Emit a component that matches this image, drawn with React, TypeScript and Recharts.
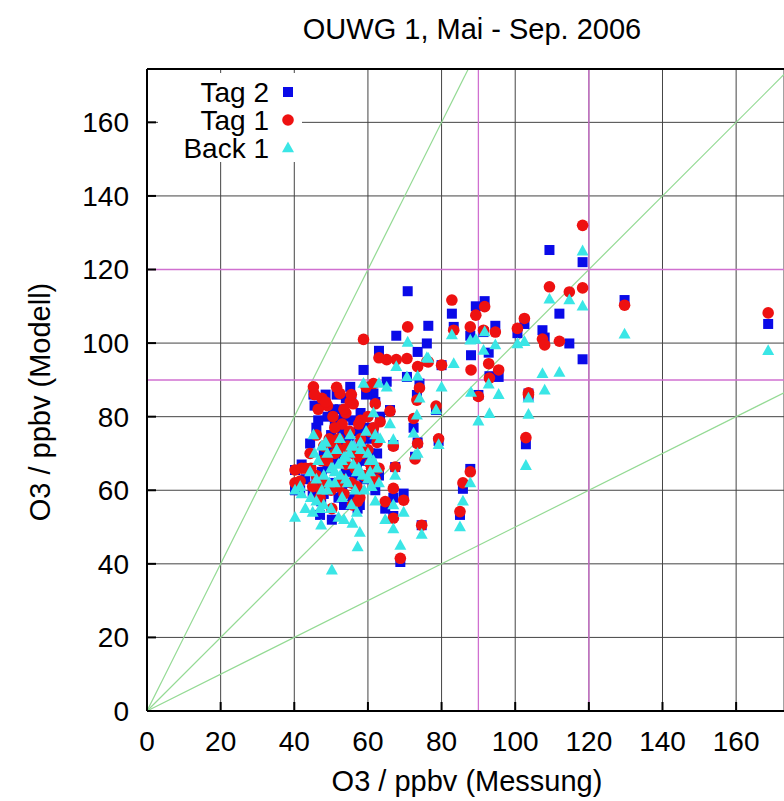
import React from "react";
import { CartesianGrid, ReferenceLine, Scatter, ScatterChart, XAxis, YAxis } from "recharts";

const title = "OUWG 1, Mai - Sep. 2006";
const xLabel = "O3 / ppbv (Messung)";
const yLabel = "O3 / ppbv (Modell)";
const axisTicks = [0, 20, 40, 60, 80, 100, 120, 140, 160];
const thresholds = [90, 120];
const slopes = [2, 1, 0.5];
const X_MAX = 173;
const Y_MAX = 174.5;

// measured O3 per day, and the three model runs for the same days
const messung = [
  118.3, 118.3, 109.3, 114.7, 112, 129.7, 168.7, 107.4, 108, 102.5, 100.6, 103.6, 103.6, 102.9, 91.7, 89.3,
  87.8, 91.4, 94.6, 92.8, 95.5, 88, 90, 93, 87.8, 85.8, 85, 82.8, 83.3, 80, 70.8, 76.4, 67.7, 58.8, 76, 63,
  73.5, 65.1, 70.6, 74, 61.5, 73.3, 78.5, 66, 63.3, 72.4, 79.2, 73.5, 66.9, 72.8, 60.6, 67.4, 66.9, 69.7,
  64.7, 66.9, 74.6, 68.8, 50.2, 57.2, 57.8, 40.2, 47.3, 52, 47, 40.2, 41.6, 44.3, 44.5, 45.2, 47.5, 52.4,
  55.2, 49, 56, 62, 53, 50, 55, 58, 60, 48, 51, 54, 57, 59, 46, 50, 53, 55.5, 61, 63, 49, 56, 52, 58, 54, 46,
  48, 60, 42, 51, 57, 62, 45.5, 46.5, 48.5, 50.5, 51.5, 53.5, 55.5, 57.5, 59.5, 61.5, 52.5, 54.5, 56.5,
  58.5, 47.5, 49.5, 43, 45, 53.5, 55.8, 60.5, 62.5,
];
const tag2 = [
  122, 95.6, 125.3, 99.9, 108, 111.7, 105.2, 103.5, 101.5, 105.2, 102.7, 86.3, 85.5, 72.5, 111.4, 110,
  102, 103, 104.7, 97.4, 90.8, 96.7, 85.9, 91, 65.8, 60.4, 53.3, 108, 104.4, 94, 114.1, 104.7, 102, 92.7,
  99.9, 97.9, 97.6, 89.5, 90.8, 89, 86.3, 85.9, 81.8, 81.8, 80, 77, 73.4, 73, 72.3, 69.1, 70, 66.3, 58,
  59.1, 55, 53, 50.5, 40.5, 52, 55, 56, 60, 57, 58, 53.3, 65.5, 60, 72.7, 66, 86, 84, 82, 88.1, 80, 79, 84,
  76, 75, 73, 72, 77, 70, 68, 65, 66, 63, 62, 62, 60, 62, 67, 64, 66, 70, 72, 81, 85, 77, 59, 69, 67, 79,
  60, 60, 83, 79, 86, 82, 86, 80, 84, 76, 86, 76, 69, 74, 64, 68, 65, 71, 63, 59, 56, 58, 74, 70,
];
const tag1 = [
  132, 115, 115.3, 113.9, 100.5, 110.3, 108.2, 101.1, 99.5, 106.7, 104, 86, 86.5, 74.3, 109.9, 107.6,
  104.4, 103.5, 103, 94.4, 92.7, 92.7, 85.5, 90.5, 65, 62, 54.2, 111.7, 103.5, 94, 104.4, 94.9, 95.5, 101,
  95, 96, 93.6, 95.5, 95.8, 87.8, 89, 84.5, 82.9, 81.5, 78.6, 79.5, 74, 72.7, 72, 68.5, 67.3, 66.3, 60.5,
  57.3, 56.9, 52.4, 50.5, 41.5, 55, 57, 58, 62, 60, 61, 58, 65.5, 62.5, 70, 66, 88.1, 85, 86.3, 84, 83,
  83.5, 83.5, 78, 73, 76, 74, 80, 72, 70, 67, 69, 64, 64, 60, 63, 62, 66, 66, 68, 71, 74, 79, 81, 75, 62,
  71, 66, 77, 61, 63, 86, 82, 84, 80, 88, 82, 86, 78, 88, 77, 71, 72, 66, 70, 68, 74, 66, 61, 59, 56, 76,
  73,
];
const back1 = [
  125, 110, 111.9, 111.7, 92, 102.4, 97.9, 91.7, 87.2, 100.4, 99.8, 85, 80.6, 66.7, 103, 101, 100.8, 98,
  99.5, 88.8, 86, 86.6, 78.8, 80.8, 62, 57, 50, 102.2, 94.4, 88, 100.2, 95.8, 93.6, 89, 96, 89, 91, 88,
  90.8, 85, 81, 80.4, 81.8, 78, 74, 75.5, 72.4, 70, 73.7, 69.5, 65, 64, 56, 54, 52, 49.5, 48, 45, 38.3,
  44.6, 48.5, 52.6, 50.5, 52.6, 55, 60, 61, 65, 58, 75, 72, 74, 75, 70, 72, 75, 68, 66, 70, 71, 70, 64, 62,
  63, 65, 60, 57, 55, 58, 56, 61, 62, 60, 67, 67, 73, 69, 63, 56, 63, 59, 65, 54, 57, 70, 68, 73, 66, 71,
  69, 72, 66, 76, 68, 64, 62, 60, 64, 60, 62, 55, 54, 52, 51, 68, 66,
];

const toPoints = (ys: number[]) => messung.map((x, i) => ({ x, y: ys[i] }));

const FONT = "'Liberation Sans', Arial, Helvetica, sans-serif";
const BLUE = "#0a0ae8";
const RED = "#ee1111";
const CYAN = "#3ae6e6";
const GREEN = "#94da94";
const VIOLET = "#d070d0";

const Square = (p: any) => <rect x={p.cx - 5} y={p.cy - 5} width={10} height={10} fill={BLUE} />;
const Dot = (p: any) => <circle cx={p.cx} cy={p.cy} r={5.8} fill={RED} />;
const Tri = (p: any) => (
  <polygon
    points={`${p.cx},${p.cy - 6.5} ${p.cx + 6},${p.cy + 4.3} ${p.cx - 6},${p.cy + 4.3}`}
    fill={CYAN}
  />
);

const XTick = ({ x, y, payload }: any) => (
  <text x={x} y={y} dy="0.71em" textAnchor="middle" fontSize={28} fontFamily={FONT} fill="#000">
    {payload.value}
  </text>
);

const YTick = ({ x, y, payload }: any) => (
  <text x={x} y={y} dy="0.355em" textAnchor="end" fontSize={28} fontFamily={FONT} fill="#000">
    {payload.value}
  </text>
);

const legendItems = [
  { name: "Tag 2", Shape: Square },
  { name: "Tag 1", Shape: Dot },
  { name: "Back 1", Shape: Tri },
];

function Key() {
  return (
    <g>
      <rect x={158} y={73} width={144} height={89} fill="#fff" />
      {legendItems.map(({ name, Shape }, i) => (
        <g key={name}>
          <text x={269} y={102 + i * 28} textAnchor="end" fontSize={28} fontFamily={FONT} fill="#000">
            {name}
          </text>
          <Shape cx={288} cy={92 + i * 28} />
        </g>
      ))}
    </g>
  );
}

export default function App() {
  return (
    <>
      <style>{`html,body{margin:0;overflow:hidden;background:#fff}`}</style>
      <ScatterChart width={784} height={801} margin={{ top: 68, right: 0, bottom: 0, left: 0 }}>
        <CartesianGrid stroke="#444" strokeWidth={1} />
        <XAxis
          type="number"
          dataKey="x"
          domain={[0, X_MAX]}
          ticks={axisTicks}
          interval={0}
          allowDataOverflow
          height={90}
          axisLine={{ stroke: "#000", strokeWidth: 2 }}
          tickLine={{ stroke: "#000", strokeWidth: 2 }}
          tickSize={-9}
          tickMargin={29}
          tick={<XTick />}
        />
        <XAxis
          xAxisId="top"
          orientation="top"
          type="number"
          domain={[0, X_MAX]}
          ticks={axisTicks}
          interval={0}
          height={1}
          axisLine={{ stroke: "#000", strokeWidth: 2 }}
          tickLine={{ stroke: "#000", strokeWidth: 2 }}
          tickSize={-9}
          tick={false}
        />
        <YAxis
          type="number"
          dataKey="y"
          domain={[0, Y_MAX]}
          ticks={axisTicks}
          interval={0}
          allowDataOverflow
          width={147}
          axisLine={{ stroke: "#000", strokeWidth: 2 }}
          tickLine={{ stroke: "#000", strokeWidth: 2 }}
          tickSize={-9}
          tickMargin={27}
          tick={<YTick />}
        />
        {slopes.map((s) => (
          <ReferenceLine
            key={s}
            segment={[
              { x: 0, y: 0 },
              { x: Math.min(X_MAX, Y_MAX / s), y: Math.min(Y_MAX, X_MAX * s) },
            ]}
            stroke={GREEN}
            strokeWidth={1.2}
          />
        ))}
        {thresholds.map((t) => (
          <ReferenceLine key={`x${t}`} x={t} stroke={VIOLET} strokeWidth={1.3} />
        ))}
        {thresholds.map((t) => (
          <ReferenceLine key={`y${t}`} y={t} stroke={VIOLET} strokeWidth={1.5} />
        ))}
        <Scatter name="Tag 2" data={toPoints(tag2)} shape={Square} isAnimationActive={false} />
        <Scatter name="Tag 1" data={toPoints(tag1)} shape={Dot} isAnimationActive={false} />
        <Scatter name="Back 1" data={toPoints(back1)} shape={Tri} isAnimationActive={false} />
        <Key />
        <text x={472} y={39} textAnchor="middle" fontSize={29} fontFamily={FONT} fill="#000">
          {title}
        </text>
        <text x={467} y={791} textAnchor="middle" fontSize={29} fontFamily={FONT} fill="#000">
          {xLabel}
        </text>
        <text
          x={50}
          y={402}
          transform="rotate(-90 50 402)"
          textAnchor="middle"
          fontSize={29}
          fontFamily={FONT}
          fill="#000"
        >
          {yLabel}
        </text>
      </ScatterChart>
    </>
  );
}
